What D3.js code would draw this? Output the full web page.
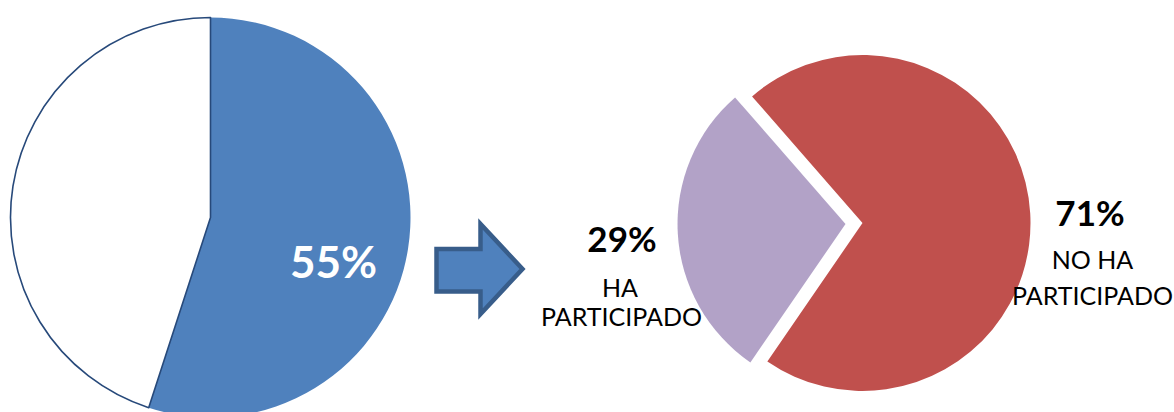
<!DOCTYPE html>
<html><head><meta charset="utf-8">
<script src="https://cdn.jsdelivr.net/npm/d3@7"></script>
<style>html,body{margin:0;padding:0;background:#fff;overflow:hidden}</style>
</head><body>
<svg id="chart" width="1174" height="412"></svg>
<script>
// Left pie (before)
const leftCategories = ["Ha participado", "Resto"];
const leftValues = [55, 45];
const leftLabels = ["55%", ""];
// Right pie (after)
const rightCategories = ["HA PARTICIPADO", "NO HA PARTICIPADO"];
const rightValues = [29, 71];
const rightPercentLabels = ["29%", "71%"];
const rightNameLabels = [["HA", "PARTICIPADO"], ["NO HA", "PARTICIPADO"]];

const svg = d3.select("#chart");
const FONT = "Lato, 'Open Sans', sans-serif";

// ---------- Left pie ----------
const L = {cx: 210.5, cy: 217.5, r: 200};
const leftPie = d3.pie().sort(null).value(d => d)(leftValues);
const leftArc = d3.arc().innerRadius(0).outerRadius(L.r);
const gL = svg.append("g").attr("transform", `translate(${L.cx},${L.cy})`);
const leftFill = ["#4f81bd", "#ffffff"];
gL.selectAll("path").data(leftPie).join("path")
  .attr("d", leftArc)
  .attr("fill", (d, i) => leftFill[i])
  .attr("stroke", (d, i) => i === 1 ? "#27497a" : "none")
  .attr("stroke-width", 1.6)
  .attr("stroke-linejoin", "round");
gL.append("text")
  .attr("x", 123).attr("y", 60.5)
  .attr("text-anchor", "middle")
  .attr("font-family", FONT).attr("font-weight", 700).attr("font-size", 44)
  .attr("fill", "#ffffff")
  .text(leftLabels[0]);

// ---------- Arrow ----------
const arrowPts = [[436.5,249],[480.5,249],[480.5,224],[522.5,269],[480.5,314],[480.5,291.5],[436.5,291.5]];
svg.append("path")
  .attr("d", d3.line()(arrowPts) + "Z")
  .attr("fill", "#4f81bd")
  .attr("stroke", "#385d8a")
  .attr("stroke-width", 4.5)
  .attr("stroke-linejoin", "miter");

// ---------- Right pie ----------
const R = {cx: 862.5, cy: 223, r: 168, explode: 17};
const startDeg = 214.5;
const rightPie = d3.pie().sort(null).value(d => d)
  .startAngle(startDeg * Math.PI / 180)
  .endAngle(startDeg * Math.PI / 180 + 2 * Math.PI)(rightValues);
const rightArc = d3.arc().innerRadius(0).outerRadius(R.r);
const rightFill = ["#b2a2c7", "#c0504d"];
const gR = svg.append("g").attr("transform", `translate(${R.cx},${R.cy})`);
gR.selectAll("path").data(rightPie).join("path")
  .attr("d", rightArc)
  .attr("fill", (d, i) => rightFill[i])
  .attr("transform", (d, i) => {
    if (i !== 0) return null;
    const a = (d.startAngle + d.endAngle) / 2;
    return `translate(${R.explode * Math.sin(a)},${-R.explode * Math.cos(a)})`;
  });

// Labels (layout positions per line)
const labelLayout = [
  {pct: [622, 252], lines: [[620, 296.5], [621.5, 326]]},
  {pct: [1090, 226], lines: [[1092.5, 269], [1092.5, 305]]}
];
labelLayout.forEach((p, i) => {
  const g = svg.append("g").attr("font-family", FONT).attr("text-anchor", "middle").attr("fill", "#000");
  g.append("text").attr("x", p.pct[0]).attr("y", p.pct[1])
    .attr("font-weight", 700).attr("font-size", 35)
    .text(rightPercentLabels[i]);
  rightNameLabels[i].forEach((t, j) => {
    g.append("text").attr("x", p.lines[j][0]).attr("y", p.lines[j][1])
      .attr("font-size", 25)
      .text(t);
  });
});
</script>
</body></html>
